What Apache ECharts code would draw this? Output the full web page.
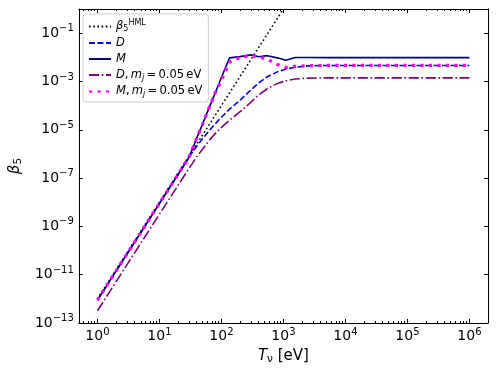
<!DOCTYPE html>
<html><head><meta charset="utf-8">
<script src="https://cdn.jsdelivr.net/npm/echarts@6/dist/echarts.min.js"></script>
<style>html,body{margin:0;padding:0;background:#fff}#c{width:497px;height:373px}</style>
</head><body><div id="c"></div>
<script>
// ---- data ----
const T    = [1, 3, 10, 20, 30, 40, 50, 63, 80, 100, 135, 200, 300, 400, 550, 800, 1100, 1550, 2500, 5000, 1e4, 3e4, 1e5, 3e5, 1e6];
const hmlT = [1, 10, 100, 1000];
const hmlB = [1e-12, 1e-8, 1e-4, 1];
const Dv   = [8.9e-13, 7.2e-11, 8.9e-9, 1.41e-7, 7.1e-7, 2.1e-6, 4.4e-6, 8.9e-6, 1.8e-5, 3.3e-5, 7.1e-5, 1.66e-4, 4.5e-4, 8.7e-4, 1.58e-3, 2.5e-3, 3.3e-3, 3.9e-3, 4.4e-3, 4.6e-3, 4.6e-3, 4.6e-3, 4.6e-3, 4.6e-3, 4.6e-3];
const Mv   = [8.9e-13, 7.2e-11, 8.9e-9, 1.41e-7, 7.2e-7, 4.5e-6, 1.8e-5, 7.9e-5, 3.5e-4, 1.45e-3, 9.5e-3, 1.07e-2, 1.26e-2, 1.05e-2, 1.17e-2, 9.5e-3, 7.6e-3, 9.8e-3, 9.8e-3, 9.7e-3, 9.7e-3, 9.7e-3, 9.7e-3, 9.7e-3, 9.7e-3];
const Dmjv = [3.2e-13, 2.6e-11, 3.2e-9, 5e-8, 2.5e-7, 7.6e-7, 1.6e-6, 3.5e-6, 7.1e-6, 1.26e-5, 2.5e-5, 5.6e-5, 1.4e-4, 2.8e-4, 5e-4, 8.3e-4, 1.07e-3, 1.26e-3, 1.38e-3, 1.41e-3, 1.41e-3, 1.41e-3, 1.41e-3, 1.41e-3, 1.41e-3];
const Mmjv = [8.9e-13, 7.2e-11, 8.9e-9, 1.41e-7, 7.2e-7, 4.5e-6, 1.8e-5, 7.9e-5, 3.5e-4, 1.1e-3, 6.3e-3, 1e-2, 1.17e-2, 1.05e-2, 8.3e-3, 5e-3, 3.8e-3, 4.2e-3, 4.5e-3, 4.6e-3, 4.6e-3, 4.6e-3, 4.6e-3, 4.6e-3, 4.6e-3];
const xMajor = [1, 10, 100, 1e3, 1e4, 1e5, 1e6];
const yMajor = [1e-13, 1e-11, 1e-9, 1e-7, 1e-5, 1e-3, 1e-1];
const xRange = [Math.pow(10, -0.3), Math.pow(10, 6.3)];
const yRange = [1e-13, 1];

// minor tick values 2..9 x 10^k
const xMinor = [];
for (let k = -1; k <= 6; k++) for (let d = 2; d <= 9; d++) {
  const v = d * Math.pow(10, k);
  if (v > xRange[0] && v < xRange[1]) xMinor.push(v);
}

const F = 'DejaVu Sans';
const tickRich = {
  b: {fontFamily: F, fontSize: 14, color: '#000'},
  s: {fontFamily: F, fontSize: 10, color: '#000', padding: [0, 0, 9, 0]}
};
function powLabel(v) {
  const e = Math.round(Math.log10(v));
  return '{b|10}{s|' + (e < 0 ? '\u2212' + (-e) : e) + '}';
}
const LF = 11.5;
const legRich = {
  i: {fontFamily: F, fontSize: LF, fontStyle: 'italic', color: '#000'},
  t: {fontFamily: F, fontSize: LF, color: '#000'},
  sub: {fontFamily: F, fontSize: 8, color: '#000', padding: [5, 0, 0, 0]},
  isub: {fontFamily: F, fontSize: 8, fontStyle: 'italic', color: '#000', padding: [5, 0, 0, 0]},
  sup: {fontFamily: F, fontSize: 8, color: '#000', padding: [0, 0, 7, 0]}
};
const legendLabels = {
  'HML': '{i|\u03b2}{sub|5}{sup|HML}',
  'D': '{i|D}',
  'M': '{i|M}',
  'Dmj': '{i|D}{t|,\u2009}{i|m}{isub|j}{t|\u2009=\u20090.05\u2009eV}',
  'Mmj': '{i|M}{t|,\u2009}{i|m}{isub|j}{t|\u2009=\u20090.05\u2009eV}'
};

function xAx(pos, ticks, len, labels, line) {
  return {
    type: 'log', logBase: 10, position: pos, min: xRange[0], max: xRange[1],
    axisLine: {show: line, onZero: false, lineStyle: {color: '#000', width: 1}},
    axisTick: {show: true, inside: true, length: len, customValues: ticks, lineStyle: {color: '#000', width: 1}},
    axisLabel: labels ? {show: true, customValues: xMajor, formatter: powLabel, rich: tickRich, margin: 4} : {show: false},
    splitLine: {show: false}, minorTick: {show: false}
  };
}
function yAx(pos, labels) {
  return {
    type: 'log', logBase: 10, position: pos, min: yRange[0], max: yRange[1],
    axisLine: {show: true, onZero: false, lineStyle: {color: '#000', width: 1}},
    axisTick: {show: true, inside: true, length: 4, customValues: yMajor, lineStyle: {color: '#000', width: 1}},
    axisLabel: labels ? {show: true, customValues: yMajor, formatter: powLabel, rich: tickRich, margin: 5, showMinLabel: true, showMaxLabel: true} : {show: false},
    splitLine: {show: false}
  };
}
const xAxes = [xAx('bottom', xMajor, 4, true, true), xAx('bottom', xMinor, 2, false, false),
               xAx('top', xMajor, 4, false, true), xAx('top', xMinor, 2, false, false)];
xAxes[0].name = '{i|T}{sub|\u03bd}{t| [eV]}';
xAxes[0].nameLocation = 'middle';
xAxes[0].nameGap = 19;
xAxes[0].nameTextStyle = {rich: {
  i: {fontFamily: F, fontSize: 15, fontStyle: 'italic', color: '#000'},
  t: {fontFamily: F, fontSize: 15, color: '#000'},
  sub: {fontFamily: F, fontSize: 10.5, color: '#000', padding: [6, 0, 0, 0]}}};
const yAxes = [yAx('left', true), yAx('right', false)];
yAxes[0].name = '{i|\u03b2}{sub|5}';
yAxes[0].nameLocation = 'middle';
yAxes[0].nameGap = 49;
yAxes[0].nameTextStyle = {rich: {
  i: {fontFamily: F, fontSize: 15, fontStyle: 'italic', color: '#000'},
  sub: {fontFamily: F, fontSize: 10.5, color: '#000', padding: [6, 0, 0, 0]}}};

function mk(name, xs, ys, color, width, type) {
  return {
    name: name, type: 'line', xAxisIndex: 0, yAxisIndex: 0, symbol: 'none', showSymbol: false,
    data: xs.map((x, i) => [x, ys[i]]), clip: true, animation: false,
    lineStyle: {color: color, width: width, type: type, cap: 'butt'}, itemStyle: {color: color}
  };
}
const series = [
  mk('HML', hmlT, hmlB, '#000000', 1.6, [1.6, 2.6]),
  mk('D', T, Dv, '#0000ff', 1.6, [5.9, 2.6]),
  mk('M', T, Mv, '#000080', 1.6, 'solid'),
  mk('Dmj', T, Dmjv, '#800080', 1.6, [10.2, 2.6, 1.6, 2.6]),
  mk('Mmj', T, Mmjv, '#ff00ff', 3.2, [3.2, 5.3])
];

const chart = echarts.init(document.getElementById('c'), null, {renderer: 'canvas'});
chart.setOption({
  animation: false,
  backgroundColor: '#fff',
  grid: {left: 77, right: 9, top: 9, bottom: 50, containLabel: false},
  xAxis: xAxes,
  yAxis: yAxes,
  legend: {
    orient: 'vertical', left: 83, top: 14, itemWidth: 22, itemHeight: 10, itemGap: 4,
    padding: [5, 6, 4, 5], borderColor: '#cccccc', borderWidth: 1, borderRadius: 3,
    backgroundColor: 'rgba(255,255,255,0.8)',
    itemStyle: {opacity: 0},
    data: ['HML', 'D', 'M', 'Dmj', 'Mmj'],
    formatter: n => legendLabels[n],
    textStyle: {fontFamily: F, fontSize: LF, color: '#000', rich: legRich}
  },
  series: series
});
</script></body></html>
